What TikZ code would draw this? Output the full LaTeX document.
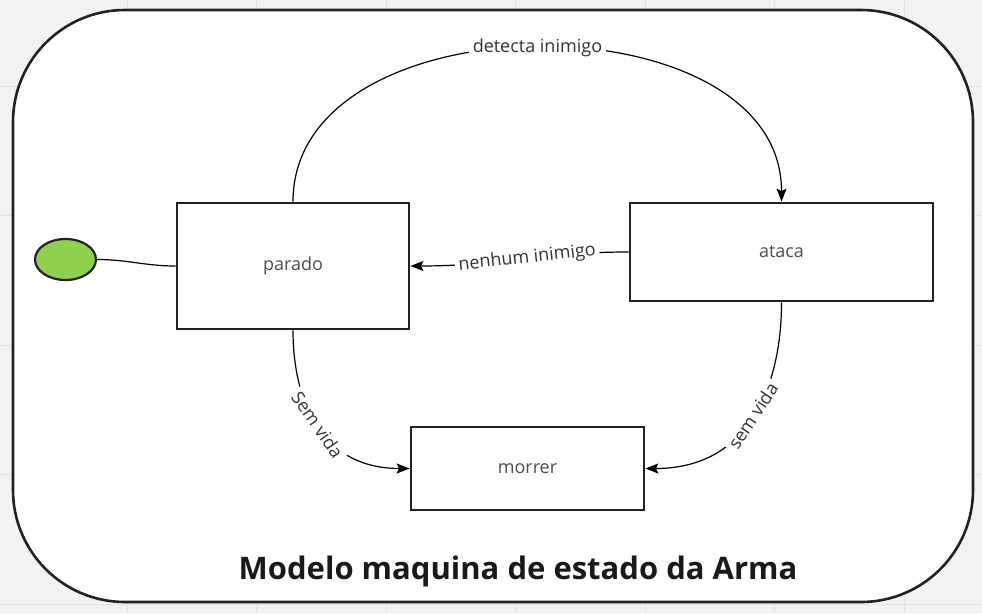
\documentclass[tikz,border=0pt]{standalone}
\usepackage{fontspec}
\setmainfont{Open Sans}
\usetikzlibrary{arrows.meta,shapes.geometric}
\definecolor{bg}{HTML}{F2F2F2}
\definecolor{gridc}{HTML}{E3E3E3}
\definecolor{greenf}{HTML}{8FD14F}
\definecolor{boxline}{HTML}{222222}
\definecolor{lbltxt}{HTML}{333333}
\definecolor{boxtxt}{HTML}{4D4D4D}
\begin{document}
\begin{tikzpicture}[x=1pt,y=-1pt,
  state/.style={draw=boxline, line width=2.8pt, fill=white, inner sep=0pt,
    font=\fontsize{18}{22}\selectfont, text=boxtxt},
  conn/.style={line width=1.2pt, black},
  tip/.style={-{Stealth[length=13pt,width=10pt,inset=2.5pt]}},
  lbl/.style={fill=white, inner sep=3.5pt, font=\fontsize{18}{22}\selectfont, text=lbltxt, sloped}
]
\fill[bg] (0,0) rectangle (982,613);
\useasboundingbox (0,0) rectangle (982,613);
\foreach \x in {127,256.5,386,515.5,645,774.5,904}
  \draw[gridc, line width=1pt] (\x,0) -- (\x,613);
\foreach \y in {86,215.5,345,474.5,604}
  \draw[gridc, line width=1pt] (0,\y) -- (982,\y);
\draw[rounded corners=112pt, line width=2.6pt, fill=white, draw=boxline] (13,10) rectangle (973,602);

\node[state, minimum width=232pt, minimum height=126pt] (parado) at (293,266) {parado};
\node[state, minimum width=303pt, minimum height=98pt] (ataca) at (781.5,252) {ataca};
\node[state, minimum width=233pt, minimum height=83pt] (morrer) at (527.5,468.5) {morrer};
\node[ellipse, draw=boxline, line width=2.2pt, fill=greenf, minimum width=61pt, minimum height=41pt, inner sep=0pt] (init) at (65.5,259.5) {};

\draw[conn] (init.east) to[out=0,in=180] (parado.west);
\draw[conn,tip] (parado.north) .. controls (293,-4) and (782,-4) .. node[lbl]{detecta inimigo} (ataca.north);
\draw[conn,tip] (ataca.west) .. controls +(-90,0) and +(90,0) .. node[lbl, pos=0.46]{nenhum inimigo} (parado.east);
\draw[conn,tip] (parado.south) .. controls +(0,68) and +(-90,0) .. node[lbl]{Sem vida} (morrer.west);
\draw[conn,tip] (ataca.south) .. controls +(0,81) and +(105,0) .. node[lbl]{sem vida} (morrer.east);

\node[font=\fontsize{31}{36}\selectfont\bfseries, text=black!90, anchor=base] (title) at (518,579) {Modelo maquina de estado da Arma};
\end{tikzpicture}
\end{document}
